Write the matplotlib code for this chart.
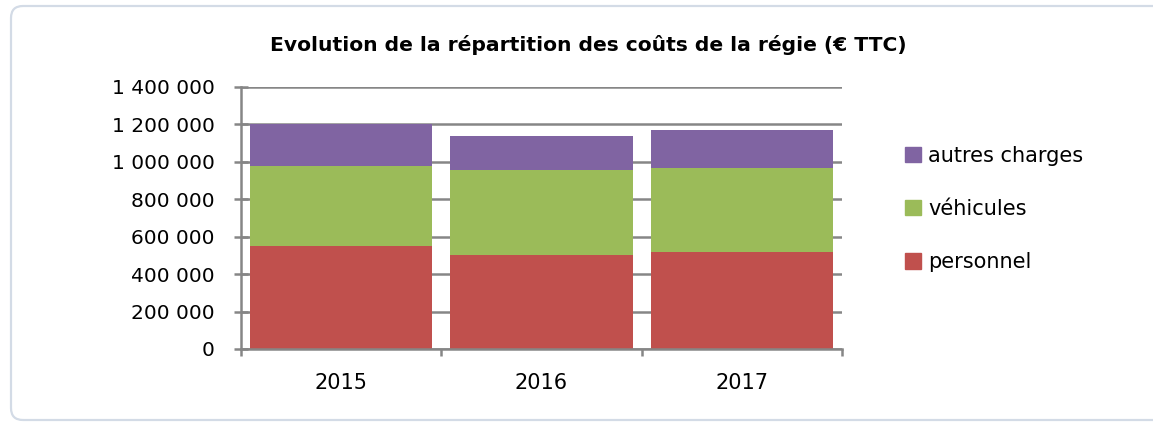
import matplotlib.pyplot as plt
from matplotlib.patches import FancyBboxPatch, Patch
import numpy as np

annees = ['2015', '2016', '2017']
personnel = [550000, 500000, 520000]
vehicules = [430000, 457000, 448000]
autres = [220000, 181000, 201000]

c_pers = '#C0504D'
c_veh = '#9BBB59'
c_aut = '#8064A2'
gris = '#868686'

plt.rcParams['font.family'] = ['DejaVu Sans']

fig = plt.figure(figsize=(11.53, 4.25), dpi=100)

# cadre arrondi autour du graphique
cadre = FancyBboxPatch((0.11, 0.05), 11.6, 4.14, boxstyle='round,pad=0,rounding_size=0.12',
                       transform=fig.dpi_scale_trans, facecolor='none',
                       edgecolor='#d3dbe6', linewidth=1.6, zorder=-1)
fig.patches.append(cadre)

ax = fig.add_axes([241/1153, 1-349/425, 601/1153, 262/425])
ax.set_facecolor('none')

x = np.arange(len(annees))
larg = 0.91
bas2 = np.array(personnel)
bas3 = bas2 + np.array(vehicules)
ax.bar(x, personnel, larg, color=c_pers, zorder=3)
ax.bar(x, vehicules, larg, bottom=bas2, color=c_veh, zorder=3)
ax.bar(x, autres, larg, bottom=bas3, color=c_aut, zorder=3)

ax.set_xlim(-0.5, 2.5)
ax.set_ylim(0, 1400000)
yt = np.arange(0, 1400001, 200000)
ax.set_yticks(yt)
ax.set_yticklabels(['{:,}'.format(v).replace(',', ' ') for v in yt])
ax.yaxis.grid(True, color=gris, linewidth=1.8, zorder=1)
ax.set_axisbelow(True)

ax.set_xticks([-0.5, 0.5, 1.5, 2.5])
ax.set_xticklabels([])
ax.set_xticks(x, minor=True)
ax.set_xticklabels(annees, minor=True)
ax.tick_params(axis='x', which='major', direction='out', length=5, width=1.8, color=gris)
ax.tick_params(axis='x', which='minor', length=0, pad=17, labelsize=15)
ax.tick_params(axis='y', direction='inout', length=10, width=1.8, color=gris, pad=14, labelsize=14.5)

for s in ['top', 'right']:
    ax.spines[s].set_visible(False)
for s in ['left', 'bottom']:
    ax.spines[s].set_color(gris)
    ax.spines[s].set_linewidth(1.8)
    ax.spines[s].set_zorder(4)

fig.text(588/1153, 1-45/425, 'Evolution de la répartition des coûts de la régie (€ TTC)',
         ha='center', va='center', fontsize=14.6, fontweight='bold')

poignees = [Patch(color=c_aut), Patch(color=c_veh), Patch(color=c_pers)]
fig.legend(poignees, ['autres charges', 'véhicules', 'personnel'],
           loc='center left', bbox_to_anchor=(905/1153, 1-209/425), frameon=False,
           fontsize=15, handlelength=0.75, handleheight=0.75, handletextpad=0.35,
           labelspacing=1.6, borderpad=0, borderaxespad=0)

fig.savefig('out.png', dpi=100)
